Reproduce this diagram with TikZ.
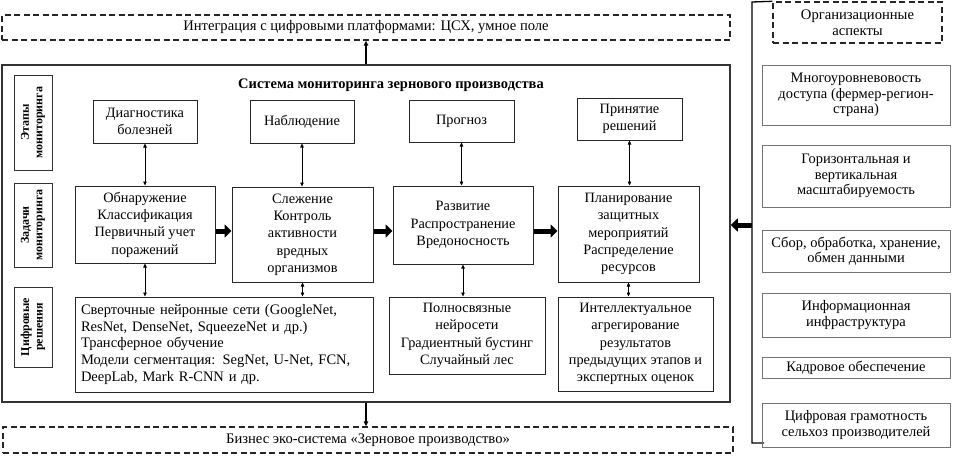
\documentclass[tikz,border=0pt]{standalone}
\usepackage{fontspec}
\setmainfont{Liberation Serif}
\usetikzlibrary{arrows.meta,calc}
\begin{document}
\begin{tikzpicture}[x=1pt,y=-1pt,
  every node/.style={font=\fontsize{14.3}{17.3}\selectfont, inner sep=2pt, align=center},
  box/.style={draw=black!85, line width=1pt},
  rbox/.style={draw=black!55, line width=0.9pt, minimum width=188, font=\fontsize{14.5}{15.5}\selectfont},
  dbox/.style={draw=black!85, line width=1.4pt, dash pattern=on 6pt off 3.5pt, font=\fontsize{14.6}{16}\selectfont},
  mbox/.style={draw=black!80, line width=1.5pt},
  lab/.style={draw=black!80, line width=1pt, rotate=90, minimum height=38, font=\bfseries\fontsize{12}{13.5}\selectfont},
  ttl/.style={font=\bfseries\fontsize{14.5}{17}\selectfont},
  conn/.style={{Triangle[length=4pt,width=3.5pt]}-{Triangle[length=4pt,width=3.5pt]}, line width=0.6pt},
  uparr/.style={-{Triangle[length=5pt,width=4.5pt]}, line width=1.2pt},
  thickarr/.style={-{Triangle[length=7pt,width=13pt]}, line width=5pt}
]
\useasboundingbox (0,0) rectangle (955,455);

% outer frames
\node[dbox, minimum width=728, minimum height=25] (top) at (366,27.5) {Интеграция с цифровыми платформами: ЦСХ, умное поле};
\node[mbox, minimum width=728, minimum height=337] (m) at (366,233.5) {};
\node[dbox, minimum width=730, minimum height=26] (bot) at (368,440) {Бизнес эко-система «Зерновое производство»};
\node[ttl] (title) at (391,85) {Система мониторинга зернового производства};

% row labels
\node[lab, minimum width=95] (l1) at (33,122.5) {Этапы\\мониторинга};
\node[lab, minimum width=84] (l2) at (33,225) {Задачи\\мониторинга};
\node[lab, minimum width=80] (l3) at (33,327) {Цифровые\\решения};

% stages
\node[box, minimum width=104, minimum height=43] (d1) at (145,121.5) {Диагностика\\болезней};
\node[box, minimum width=104, minimum height=43] (d2) at (302,121.5) {Наблюдение};
\node[box, minimum width=105, minimum height=42] (d3) at (461.5,121) {Прогноз};
\node[box, minimum width=105, minimum height=42] (d4) at (629.5,119) {Принятие\\решений};

% tasks
\node[box, minimum width=140, minimum height=77] (t1) at (145,224.5) {Обнаружение\\Классификация\\Первичный учет\\поражений};
\node[box, minimum width=141, minimum height=95] (t2) at (302.5,234.5) {Слежение\\Контроль\\активности\\вредных\\организмов};
\node[box, minimum width=140, minimum height=78] (t3) at (463,225) {Развитие\\Распространение\\Вредоносность};
\node[box, minimum width=141, minimum height=96] (t4) at (628.5,234) {Планирование\\защитных\\мероприятий\\Распределение\\ресурсов};

% solutions
\node[box, text width=286, inner sep=6pt, align=left, minimum height=95, font=\fontsize{14.5}{16.6}\selectfont] (s1) at (224,344.5) {Сверточные нейронные сети (GoogleNet,\\ResNet, DenseNet, SqueezeNet и др.)\\Трансферное обучение\\Модели сегментация: SegNet, U-Net, FCN,\\DeepLab, Mark R-CNN и др.};
\node[box, minimum width=156, minimum height=77] (s2) at (467,335.5) {Полносвязные\\нейросети\\Градиентный бустинг\\Случайный лес};
\node[box, minimum width=155, minimum height=94] (s3) at (635.5,344) {Интеллектуальное\\агрегирование\\результатов\\предыдущих этапов и\\экспертных оценок};

% vertical links
\draw[conn] (d1.south) -- (d1.south |- t1.north);
\draw[conn] (t1.south) -- (t1.south |- s1.north);
\draw[conn] (d2.south) -- (d2.south |- t2.north);
\draw[conn] (t2.south) -- (t2.south |- s1.north);
\draw[conn] (d3.south) -- (d3.south |- t3.north);
\draw[conn] (t3.south) -- (t3.south |- s2.north);
\draw[conn] (d4.south) -- (d4.south |- t4.north);
\draw[conn] (t4.south) -- (t4.south |- s3.north);

% horizontal thick arrows
\coordinate (ay) at (0,231);
\draw[thickarr] (t1.east |- ay) -- (t2.west |- ay);
\draw[thickarr] (t2.east |- ay) -- (t3.west |- ay);
\draw[thickarr] (t3.east |- ay) -- (t4.west |- ay);

% links to outer dashed boxes
\draw[uparr] (m.north) -- (top.south);
\draw[uparr] (m.south) -- (m.south |- bot.north);

% right panel
\node[dbox, minimum width=169, minimum height=41] (org) at (857.5,22.5) {Организационные\\аспекты};
\coordinate (bt) at (752,2);
\coordinate (bb) at (752,443);
\coordinate (be) at (764,443);
\draw[line width=1.3pt] (org.north west) -- (bt) -- (bb) -- (be);
\node[rbox, minimum height=60] (r1) at (856,95) {Многоуровневовость\\доступа (фермер-регион-\\страна)};
\node[rbox, minimum height=62] (r2) at (856,176) {Горизонтальная и\\вертикальная\\масштабируемость};
\node[rbox, minimum height=42] (r3) at (856,251) {Сбор, обработка, хранение,\\обмен данными};
\node[rbox, minimum height=44] (r4) at (856,315) {Информационная\\инфраструктура};
\node[rbox, minimum height=21] (r5) at (856,368) {Кадровое обеспечение};
\node[rbox, minimum height=44] (r6) at (856,425) {Цифровая грамотность\\сельхоз производителей};
\coordinate (pa) at (752,225);
\draw[thickarr] (pa) -- (m.east |- pa);
\end{tikzpicture}
\end{document}
